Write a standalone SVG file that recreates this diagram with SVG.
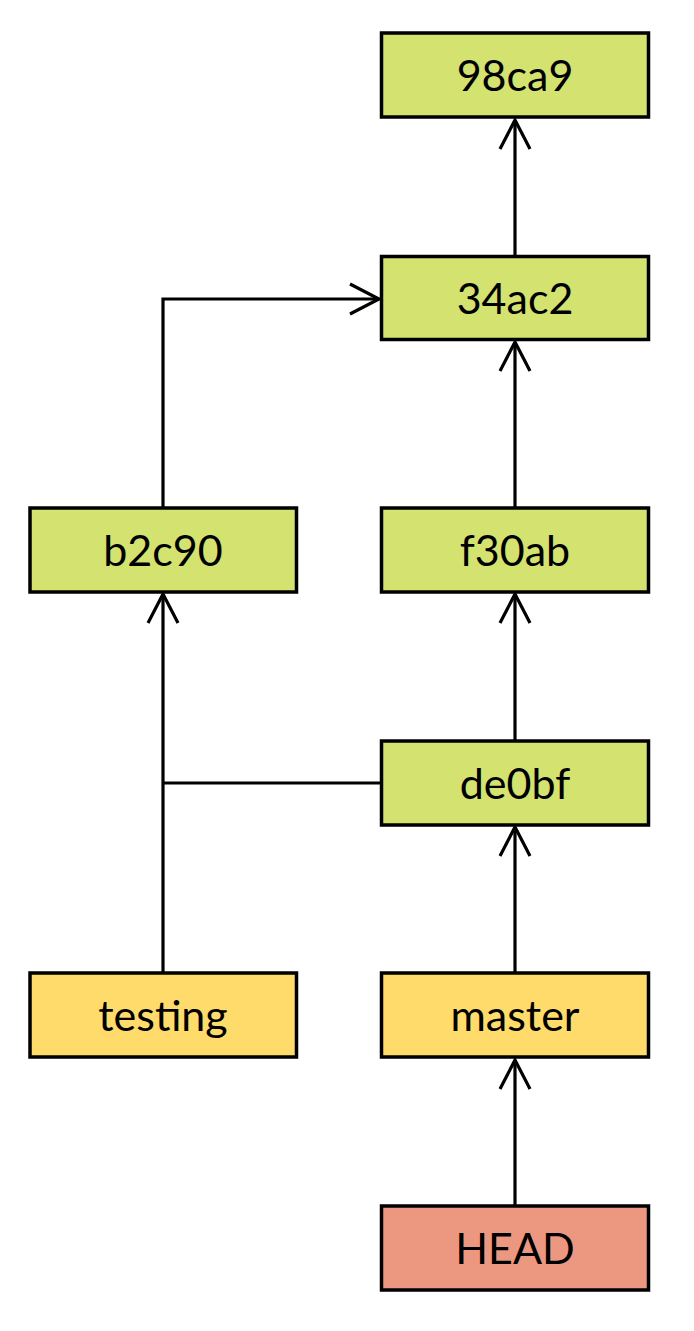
<svg xmlns="http://www.w3.org/2000/svg" width="694" height="1331" viewBox="0 0 694 1331">
<style>
.box{stroke:#000;stroke-width:3.5}
.commit{fill:#D4E270}
.branch{fill:#FFDB6B}
.head{fill:#EC9880}
.lbl{font-family:Lato,"Liberation Sans",sans-serif;font-size:43px;fill:#000;text-anchor:middle}
.conn{fill:none;stroke:#000;stroke-width:3.2}
</style>
<defs>
<marker id="arr" markerUnits="userSpaceOnUse" viewBox="-31 -17 34 34" markerWidth="34" markerHeight="34" refX="0" refY="0" orient="auto">
<path d="M-29,-15 L0,0 L-29,15" fill="none" stroke="#000" stroke-width="3.2"/>
</marker>
</defs>
<rect width="694" height="1331" fill="#fff"/>
<g id="connectors">
<path class="conn" d="M515,256 V120" marker-end="url(#arr)"/>
<path class="conn" d="M163,508 V299 H379" marker-end="url(#arr)"/>
<path class="conn" d="M515,508 V342" marker-end="url(#arr)"/>
<path class="conn" d="M515,741 V594" marker-end="url(#arr)"/>
<path class="conn" d="M163,973 V594" marker-end="url(#arr)"/>
<path class="conn" d="M381,783 H163"/>
<path class="conn" d="M515,973 V827" marker-end="url(#arr)"/>
<path class="conn" d="M515,1206 V1060" marker-end="url(#arr)"/>
</g>
<g id="n98ca9"><rect class="box commit" x="381.5" y="33" width="267" height="84"/><text class="lbl" x="515" y="91">98ca9</text></g>
<g id="n34ac2"><rect class="box commit" x="381.5" y="256.5" width="267" height="83"/><text class="lbl" x="515" y="314">34ac2</text></g>
<g id="nb2c90"><rect class="box commit" x="30" y="508" width="266.5" height="84"/><text class="lbl" x="163" y="566">b2c90</text></g>
<g id="nf30ab"><rect class="box commit" x="381.5" y="508" width="267" height="84"/><text class="lbl" x="515" y="566">f30ab</text></g>
<g id="nde0bf"><rect class="box commit" x="381.5" y="741" width="267" height="84"/><text class="lbl" x="515" y="799">de0bf</text></g>
<g id="testing"><rect class="box branch" x="30" y="973" width="266.5" height="84"/><text class="lbl" x="163" y="1031">testing</text></g>
<g id="master"><rect class="box branch" x="381.5" y="973" width="267" height="84"/><text class="lbl" x="515" y="1031">master</text></g>
<g id="HEAD"><rect class="box head" x="381.5" y="1206" width="267" height="84"/><text class="lbl" x="515" y="1264">HEAD</text></g>
</svg>
